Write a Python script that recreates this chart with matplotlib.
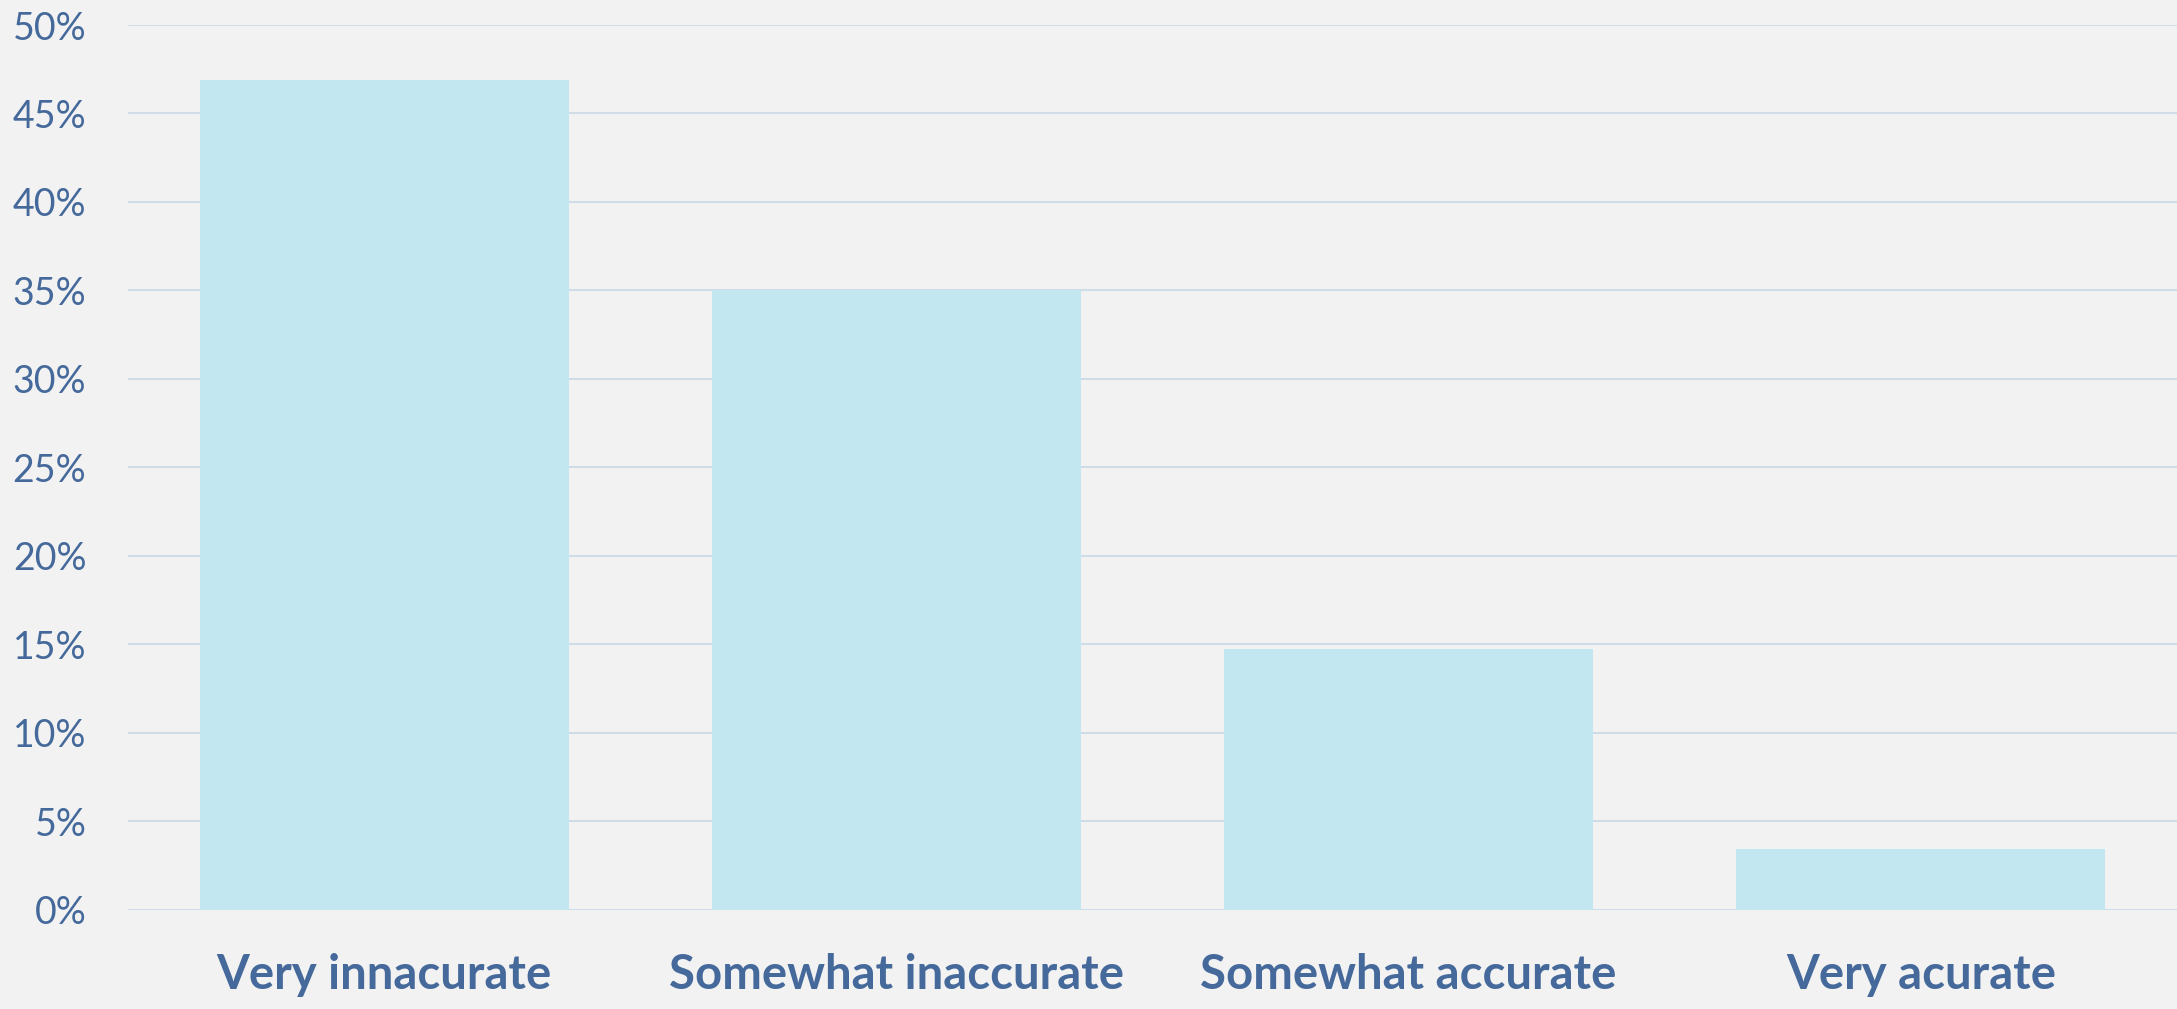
import matplotlib.pyplot as plt
from matplotlib.ticker import PercentFormatter

categorias = ["Very innacurate", "Somewhat inaccurate", "Somewhat accurate", "Very acurate"]
valores = [0.469, 0.350, 0.147, 0.034]
yticks = [0.0, 0.05, 0.10, 0.15, 0.20, 0.25, 0.30, 0.35, 0.40, 0.45, 0.50]

fundo = "#F2F2F2"
cor_barra = "#C3E7F0"
cor_texto = "#44699A"
cor_grade = "#D0DDE9"

fig = plt.figure(figsize=(21.77, 10.09), dpi=100, facecolor=fundo)
ax = fig.add_axes([0.0588, 0.0986, 0.9412, 0.8766])
ax.set_facecolor(fundo)

x = range(len(categorias))
ax.bar(x, valores, width=0.72, color=cor_barra, zorder=2)

ax.set_xlim(-0.5, len(categorias) - 0.5)
ax.set_ylim(0, 0.5)
ax.set_yticks(yticks)
ax.yaxis.set_major_formatter(PercentFormatter(1.0, decimals=0))
ax.set_xticks(list(x))
ax.set_xticklabels(categorias, fontfamily="Lato", fontweight="bold", fontsize=34, color=cor_texto)

for lbl in ax.get_yticklabels():
    lbl.set_fontfamily("Lato")
    lbl.set_fontsize(27)
    lbl.set_color(cor_texto)

ax.tick_params(axis="y", length=0, pad=30)
ax.tick_params(axis="x", length=0, pad=31)
ax.grid(axis="y", color=cor_grade, linewidth=1.5, zorder=0)
ax.set_axisbelow(True)
for s in ax.spines.values():
    s.set_visible(False)

fig.savefig("out.png", dpi=100, facecolor=fundo)
